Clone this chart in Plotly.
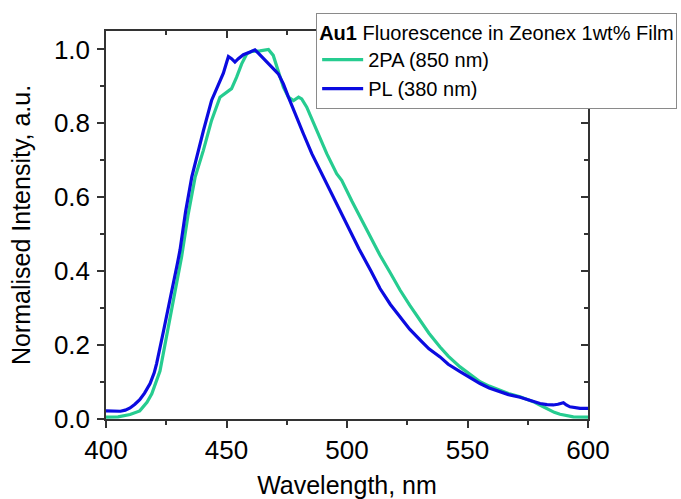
import plotly.graph_objects as go

# PL (380 nm excitation) - blue
pl_x = [400, 403, 406, 408, 410, 412, 414, 416, 418.3, 420, 421, 423.8, 426.6, 429.6, 430.7, 433,
        435.6, 437.6, 440.4, 443.8, 446.6, 448.7, 450.1, 450.8, 452.1, 453.5, 454.9, 457, 459.8,
        461.8, 463.2, 465.3, 467.4, 469.4, 471.5, 473.6, 475.7, 478.4, 481.9, 485.4, 488.8, 490.9,
        495, 500, 505, 510, 513.7, 518, 522, 526, 530.3, 534, 538.6, 542, 546.9, 551, 555.2, 559,
        563.5, 567, 571.8, 576, 580.1, 583, 585.6, 587.5, 589.8, 591, 592.5, 596.7, 600]
pl_y = [0.022, 0.021, 0.021, 0.024, 0.030, 0.040, 0.052, 0.070, 0.096, 0.125, 0.15, 0.236, 0.32, 0.42,
        0.457, 0.56, 0.655, 0.709, 0.78, 0.862, 0.907, 0.936, 0.966, 0.981, 0.975, 0.966, 0.975, 0.986,
        0.993, 0.999, 0.99, 0.975, 0.961, 0.948, 0.934, 0.907, 0.871, 0.826, 0.772, 0.718, 0.673, 0.646,
        0.59, 0.525, 0.46, 0.40, 0.353, 0.31, 0.276, 0.243, 0.214, 0.19, 0.168, 0.148, 0.128, 0.111,
        0.096, 0.084, 0.074, 0.066, 0.059, 0.050, 0.042, 0.039, 0.038, 0.040, 0.044, 0.038, 0.033,
        0.029, 0.029]

# 2PA (850 nm excitation) - green
tpa_x = [400, 405, 410, 414, 417, 419, 422.4, 425.2, 428, 431.4, 434, 437, 440.4, 443.8, 447.3, 450.1,
         452.1, 454.2, 456.3, 458.4, 460.5, 463.9, 467.4, 469.4, 471.5, 473.6, 475.7, 477.8, 479.9,
         481.2, 483.3, 487.5, 491.6, 495.7, 497.8, 502, 506, 510, 513.7, 518, 522, 526, 530.3, 534,
         538.6, 542, 546.9, 551, 555.2, 559, 563.5, 567, 571.8, 577.3, 580, 582.9, 586, 588.4, 593.9, 600]
tpa_y = [0.005, 0.006, 0.012, 0.022, 0.045, 0.068, 0.13, 0.225, 0.32, 0.44, 0.55, 0.655, 0.727, 0.808,
         0.871, 0.885, 0.894, 0.925, 0.961, 0.988, 0.995, 0.996, 1.0, 0.984, 0.943, 0.898, 0.871, 0.862,
         0.871, 0.866, 0.844, 0.78, 0.718, 0.664, 0.646, 0.59, 0.54, 0.49, 0.443, 0.395, 0.349, 0.308,
         0.268, 0.232, 0.195, 0.170, 0.141, 0.120, 0.101, 0.089, 0.078, 0.069, 0.06, 0.047, 0.038, 0.029,
         0.018, 0.013, 0.006, 0.005]

x_ticks = [400, 450, 500, 550, 600]
y_ticks = [0.0, 0.2, 0.4, 0.6, 0.8, 1.0]

GREEN = "#26cc90"
BLUE = "#0b0be0"
AX = "#333333"
FONT = "Arial, Liberation Sans, sans-serif"

fig = go.Figure()
fig.add_trace(go.Scatter(x=tpa_x, y=tpa_y, mode="lines", name="2PA (850 nm)",
                         line=dict(color=GREEN, width=3.2)))
fig.add_trace(go.Scatter(x=pl_x, y=pl_y, mode="lines", name="PL (380 nm)",
                         line=dict(color=BLUE, width=3.2)))
# dummy trace for the mirrored (inward-tick) top/right axes
fig.add_trace(go.Scatter(x=[None], y=[None], xaxis="x2", yaxis="y2", showlegend=False,
                         hoverinfo="skip"))

fig.update_layout(
    width=681, height=499,
    margin=dict(l=106, r=93, t=31, b=80, autoexpand=False),
    paper_bgcolor="white", plot_bgcolor="white",
    font=dict(family=FONT, color="black"),
    xaxis=dict(range=[400, 600], tickvals=x_ticks, ticks="outside", ticklen=7, tickwidth=1.5,
               tickcolor=AX, showline=True, linecolor=AX, linewidth=1.5, mirror=True,
               showgrid=False, zeroline=False, tickfont=dict(size=26), automargin=False,
               minor=dict(dtick=25, ticks="outside", ticklen=4, tickwidth=1.5, tickcolor=AX,
                          showgrid=False),
               title=dict(text="Wavelength, nm", font=dict(size=25), standoff=14)),
    yaxis=dict(range=[0, 1.05], tickvals=y_ticks, tickformat=".1f", ticks="outside", ticklen=7,
               tickwidth=1.5, tickcolor=AX, showline=True, linecolor=AX, linewidth=1.5,
               mirror=True, showgrid=False, zeroline=False, tickfont=dict(size=26),
               ticklabelstandoff=2, automargin=False,
               minor=dict(dtick=0.1, ticks="outside", ticklen=4, tickwidth=1.5, tickcolor=AX,
                          showgrid=False),
               title=dict(text="Normalised Intensity, a.u.", font=dict(size=25), standoff=16)),
    xaxis2=dict(overlaying="x", side="top", range=[400, 600], tickvals=x_ticks, ticks="inside",
                ticklen=7, tickwidth=1.5, tickcolor=AX, showticklabels=False, showgrid=False,
                zeroline=False, showline=False, automargin=False,
                minor=dict(dtick=25, ticks="inside", ticklen=4, tickwidth=1.5, tickcolor=AX,
                           showgrid=False)),
    yaxis2=dict(overlaying="y", side="right", range=[0, 1.05], tickvals=y_ticks, ticks="inside",
                ticklen=7, tickwidth=1.5, tickcolor=AX, showticklabels=False, showgrid=False,
                zeroline=False, showline=False, automargin=False,
                minor=dict(dtick=0.1, ticks="inside", ticklen=4, tickwidth=1.5, tickcolor=AX,
                           showgrid=False)),
    legend=dict(x=0.436, y=1.046, xanchor="left", yanchor="top",
                bgcolor="white", bordercolor="#8a8a8a", borderwidth=1,
                font=dict(size=20, color="black"), itemwidth=41,
                title=dict(text="<b>Au1</b> Fluorescence in Zeonex 1wt% Film",
                           font=dict(size=20, color="black")),
                tracegroupgap=0),
    showlegend=True,
)

fig.write_html("out.html")
